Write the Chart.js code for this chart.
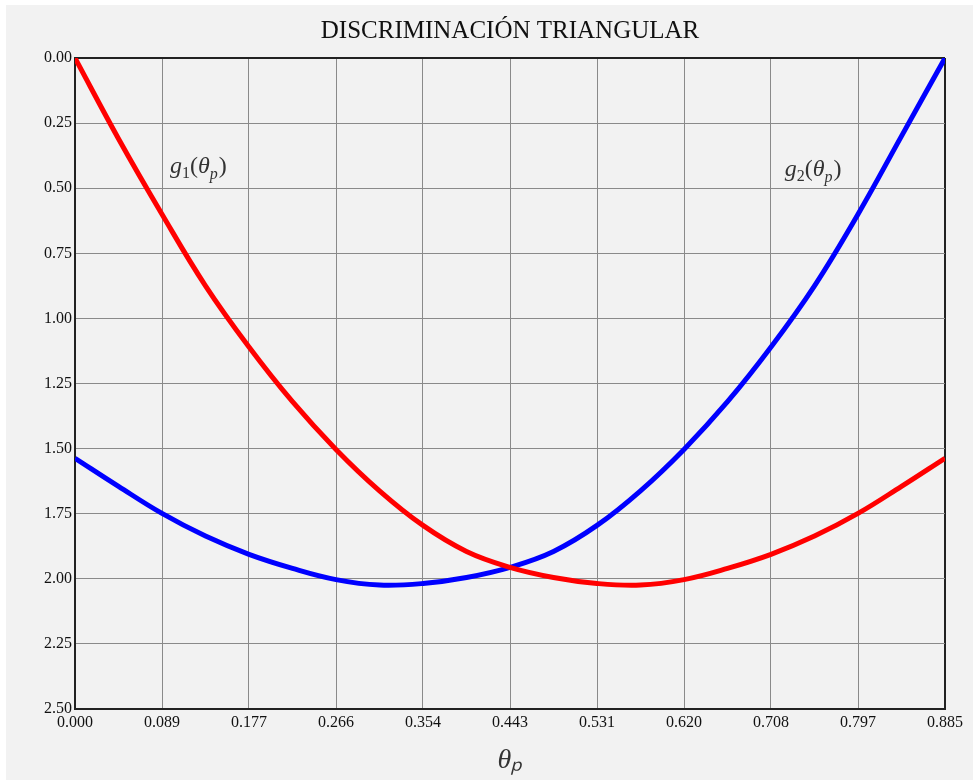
<!DOCTYPE html>
<html>
<head>
<meta charset="utf-8">
<script src="https://cdn.jsdelivr.net/npm/chart.js@4.4.1/dist/chart.umd.min.js"></script>
<style>
    html, body { margin: 0; padding: 0; background: #fff; }
    #wrap { position: absolute; left: 6px; top: 5px; width: 967px; height: 775px; background: #f2f2f2; }
    canvas { display: block; }
</style>
</head>
<body>
<div id="wrap"><canvas id="chart" width="967" height="775"></canvas></div>
<script>
// theta_p sample positions (half grid steps)
const thetaValues = [0, 0.04425, 0.0885, 0.13275, 0.177, 0.22125, 0.2655, 0.30975, 0.354, 0.39825,
    0.4425, 0.48675, 0.531, 0.57525, 0.6195, 0.66375, 0.708, 0.75225, 0.7965, 0.84075, 0.885];
const g1Values = [0, 0.31, 0.60, 0.875, 1.11, 1.32, 1.503, 1.662, 1.795, 1.895,
    1.956, 1.995, 2.018, 2.024, 2.003, 1.96, 1.906, 1.836, 1.749, 1.645, 1.537];
const g2Values = [1.537, 1.645, 1.749, 1.836, 1.906, 1.96, 2.003, 2.024, 2.018, 1.995,
    1.956, 1.895, 1.795, 1.662, 1.503, 1.32, 1.11, 0.875, 0.60, 0.30, 0];
const xTickValues = [0, 0.0885, 0.177, 0.2655, 0.354, 0.4425, 0.531, 0.6195, 0.708, 0.7965, 0.885];
const xTickLabels = ['0.000', '0.089', '0.177', '0.266', '0.354', '0.443', '0.531', '0.620', '0.708', '0.797', '0.885'];
const yTickValues = [0, 0.25, 0.5, 0.75, 1, 1.25, 1.5, 1.75, 2, 2.25, 2.5];

const serif = "'Liberation Serif', 'Times New Roman', serif";
const gridGray = '#8a8a8a';
const frame = '#222';

// curve names drawn inside the plot, g1(θp) and g2(θp)
const curveLabels = [
    { sub: '1', theta: 0.0966, value: 0.44 },
    { sub: '2', theta: 0.722, value: 0.455 }
];

function drawParts(ctx, x, y, parts) {
    parts.forEach(p => {
        ctx.font = p[1];
        ctx.fillText(p[0], x, y + p[2]);
        x += ctx.measureText(p[0]).width + (p[3] || 0);
    });
}

const labelPlugin = {
    id: 'curveLabels',
    afterDatasetsDraw(chart) {
        const ctx = chart.ctx;
        const xs = chart.scales.x, ys = chart.scales.y;
        ctx.save();
        ctx.fillStyle = '#333';
        ctx.textBaseline = 'alphabetic';
        ctx.textAlign = 'left';
        curveLabels.forEach(l => {
            drawParts(ctx, xs.getPixelForValue(l.theta), ys.getPixelForValue(l.value), [
                ['g', 'italic 24px ' + serif, 0],
                [l.sub, '16px ' + serif, 5],
                ['(', '24px ' + serif, 0],
                ['θ', 'italic 24px ' + serif, 0],
                ['p', 'italic 16px ' + serif, 6, 1],
                [')', '24px ' + serif, 0]
            ]);
        });
        ctx.restore();
    }
};

new Chart(document.getElementById('chart'), {
    type: 'line',
    data: {
        datasets: [{
            label: 'g1',
            data: thetaValues.map((t, i) => ({ x: t, y: g1Values[i] })),
            borderColor: '#ff0000',
            borderWidth: 5,
            pointRadius: 0,
            tension: 0.4,
            fill: false
        }, {
            label: 'g2',
            data: thetaValues.map((t, i) => ({ x: t, y: g2Values[i] })),
            borderColor: '#0000ff',
            borderWidth: 5,
            pointRadius: 0,
            tension: 0.4,
            fill: false
        }]
    },
    options: {
        responsive: false,
        animation: false,
        layout: { padding: { left: 0, right: 28, top: 0, bottom: 0 } },
        plugins: {
            legend: { display: false },
            tooltip: { enabled: false },
            title: {
                display: true,
                text: 'DISCRIMINACIÓN TRIANGULAR',
                fullSize: false,
                color: '#111',
                font: { family: serif, size: 25, weight: 'normal' },
                padding: { top: 11, bottom: 12 }
            }
        },
        scales: {
            x: {
                type: 'linear',
                min: 0,
                max: 0.885,
                afterBuildTicks: scale => { scale.ticks = xTickValues.map(v => ({ value: v })); },
                afterFit: scale => { scale.height = 71; },
                ticks: {
                    autoSkip: false,
                    maxRotation: 0,
                    padding: 4,
                    color: '#111',
                    font: { family: serif, size: 16 },
                    callback: (v, i) => xTickLabels[i]
                },
                grid: {
                    drawTicks: false,
                    color: c => c.index === xTickValues.length - 1 ? frame : gridGray,
                    lineWidth: c => c.index === xTickValues.length - 1 ? 2 : 1
                },
                border: { color: frame, width: 2 },
                title: {
                    display: true,
                    text: 'θₚ',
                    color: '#333',
                    font: { family: serif, size: 28, style: 'italic' },
                    padding: { top: 0, bottom: 3 }
                }
            },
            y: {
                type: 'linear',
                reverse: true,
                min: 0,
                max: 2.5,
                afterBuildTicks: scale => { scale.ticks = yTickValues.map(v => ({ value: v })); },
                afterFit: scale => { scale.width = 69; },
                ticks: {
                    padding: 3,
                    color: '#111',
                    font: { family: serif, size: 16 },
                    callback: v => v.toFixed(2)
                },
                grid: {
                    drawTicks: false,
                    color: c => c.index === 0 ? frame : gridGray,
                    lineWidth: c => c.index === 0 ? 2 : 1
                },
                border: { color: frame, width: 2 }
            }
        }
    },
    plugins: [labelPlugin]
});
</script>
</body>
</html>
